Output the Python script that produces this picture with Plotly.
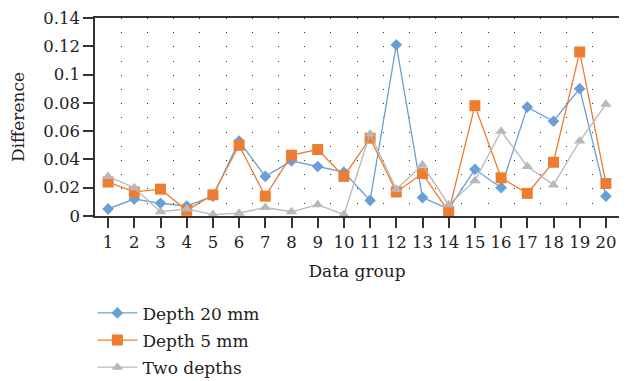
import plotly.graph_objects as go

groups = list(range(1, 21))
depth20 = [0.005, 0.012, 0.009, 0.007, 0.014, 0.053, 0.028, 0.039, 0.035, 0.031,
           0.011, 0.121, 0.013, 0.005, 0.033, 0.020, 0.077, 0.067, 0.090, 0.014]
depth5 = [0.024, 0.017, 0.019, 0.004, 0.015, 0.050, 0.014, 0.043, 0.047, 0.028,
          0.055, 0.017, 0.030, 0.003, 0.078, 0.027, 0.016, 0.038, 0.116, 0.023]
two_depths = [0.028, 0.020, 0.003, 0.005, 0.001, 0.002, 0.006, 0.003, 0.008, 0.001,
              0.058, 0.019, 0.036, 0.008, 0.025, 0.060, 0.035, 0.022, 0.053, 0.079]
ytick_vals = [0, 0.02, 0.04, 0.06, 0.08, 0.1, 0.12, 0.14]
ytick_text = ["0", "0.02", "0.04", "0.06", "0.08", "0.1", "0.12", "0.14"]

FONT = "DejaVu Serif"
fig = go.Figure()
fig.add_trace(go.Scatter(x=groups, y=depth20, name="Depth 20 mm", mode="lines+markers",
                         legendgroup="a",
                         line=dict(color="#6a9fd6", width=1.3),
                         marker=dict(symbol="diamond", size=9, color="#6a9fd6")))
fig.add_trace(go.Scatter(x=groups, y=depth5, name="Depth 5 mm", mode="lines+markers",
                         legendgroup="b",
                         line=dict(color="#ed7d31", width=1.3),
                         marker=dict(symbol="square", size=11, color="#ed7d31")))
fig.add_trace(go.Scatter(x=groups, y=two_depths, name="Two depths", mode="lines+markers",
                         legendgroup="c",
                         line=dict(color="#b8b8b8", width=1.3),
                         marker=dict(symbol="triangle-up", size=10, color="#b8b8b8")))

fig.update_layout(
    width=611, height=373,
    margin=dict(l=87, r=0, t=10, b=165, autoexpand=False),
    paper_bgcolor="white", plot_bgcolor="white",
    font=dict(family=FONT, size=16.5, color="#222"),
    showlegend=True,
    legend=dict(x=-0.005, xanchor="left", y=-0.401, yanchor="top",
                font=dict(family=FONT, size=17, color="#222"),
                tracegroupgap=2, itemwidth=40, bgcolor="rgba(0,0,0,0)"),
    xaxis=dict(range=[0.5, 20.5], tickmode="array", tickvals=groups,
               ticktext=[str(g) for g in groups], automargin=False,
               ticklabeloverflow="allow",
               ticks="outside", ticklen=10, tickwidth=1.5, tickcolor="#333",
               showline=True, linewidth=1.5, linecolor="#333", mirror=True,
               showgrid=False, zeroline=False,
               minor=dict(tickvals=[g + 0.5 for g in groups[:-1]], showgrid=True,
                          gridcolor="#333", gridwidth=1, griddash="1px,13.2px",
                          ticks=""),
               title=dict(text="Data group", font=dict(family=FONT, size=17)),
               tickfont=dict(family=FONT, size=16.5, color="#222")),
    yaxis=dict(range=[0, 0.14], tickmode="array", tickvals=ytick_vals, ticktext=ytick_text,
               automargin=False, ticklabeloverflow="allow",
               ticks="outside", ticklen=10, tickwidth=1.5, tickcolor="#333",
               showline=True, linewidth=1.5, linecolor="#333", mirror=True,
               showgrid=False, zeroline=False,
               title=dict(text="Difference", font=dict(family=FONT, size=17)),
               tickfont=dict(family=FONT, size=16.5, color="#222")),
)
fig.write_html("out.html")
